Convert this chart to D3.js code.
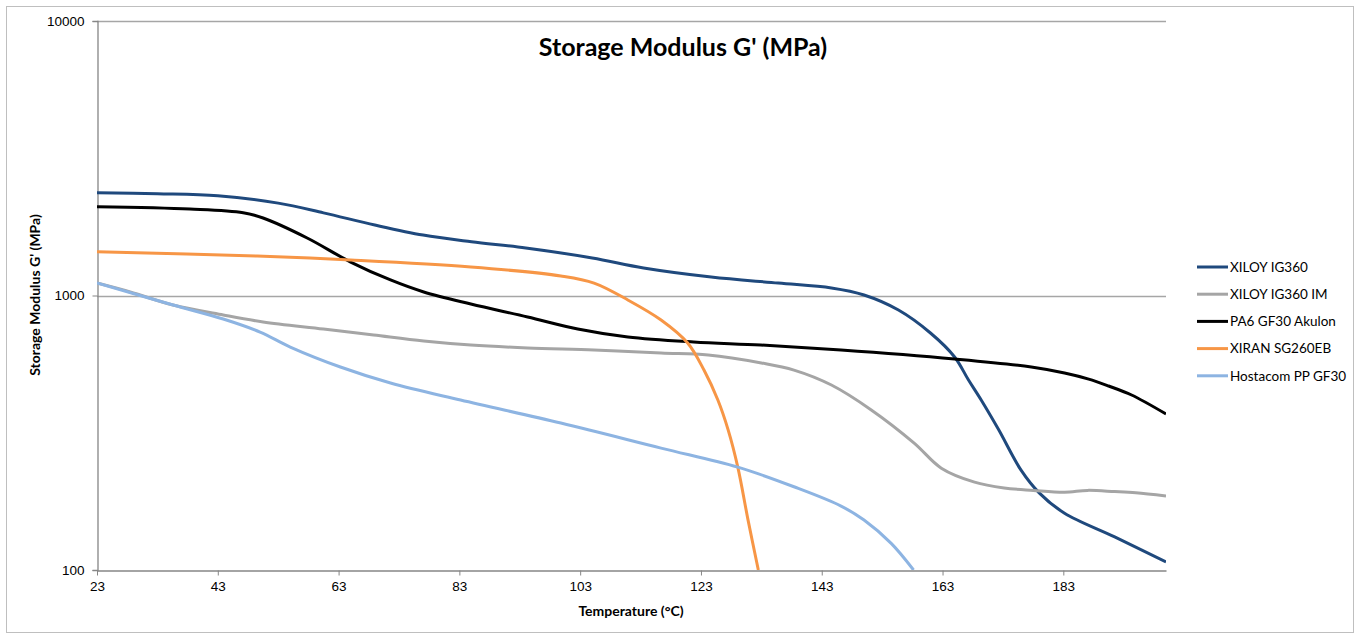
<!DOCTYPE html>
<html>
<head>
<meta charset="utf-8">
<script src="https://cdn.jsdelivr.net/npm/d3@7"></script>
<style>
  body { margin: 0; background: #fff; }
  svg { display: block; font-family: Lato, "Open Sans", sans-serif; }
</style>
</head>
<body>
<svg id="chart"></svg>
<script>
// values (temperature in °C, modulus in MPa)
const xiloyT = [23, 33, 43, 53, 60.5, 69, 77, 85, 94, 105, 113.5, 124.7, 135.8, 144.6, 150, 155.7, 161, 165, 167.3, 169.4, 172.3, 176, 179, 183.2, 191.5, 200];
const xiloyV = [2370, 2350, 2310, 2170, 2000, 1806, 1660, 1570, 1490, 1370, 1260, 1168, 1110, 1065, 1004, 885, 730, 597, 492, 416, 324, 231, 191, 161, 132, 107];

const xiloyImT = [23, 28.5, 35.6, 43.9, 50.5, 60.5, 68.8, 77.1, 84.9, 94.3, 105.3, 116.4, 124.2, 133, 138.4, 144.6, 151.2, 158.3, 162.8, 168.3, 173.2, 178, 183.2, 187, 191.5, 195, 200];
const xiloyImV = [1110, 1030, 923, 849, 801, 755, 718, 683, 660, 644, 633, 617, 607, 568, 535, 472, 383, 290, 235, 209, 199, 195, 192, 195, 193, 191, 186];

const pa6T = [23, 38.4, 47.2, 50.5, 57.8, 65, 71.6, 77.1, 84.9, 94.3, 102.6, 110.9, 121.8, 132.9, 146.2, 165, 177.7, 183.2, 187.2, 190.5, 194.3, 200];
const pa6V = [2106, 2066, 2003, 1916, 1620, 1324, 1139, 1030, 931, 835, 755, 706, 677, 660, 633, 587, 549, 522, 496, 468, 434, 370];

const xiranT = [23, 49.5, 65, 84.9, 99.8, 105.3, 110.9, 116.4, 120.8, 123.5, 125.8, 127.5, 129.1, 130.8, 132.5];
const xiranV = [1444, 1393, 1347, 1270, 1178, 1110, 963, 814, 671, 535, 416, 324, 237, 152, 100];

const hostaT = [23, 35.6, 43.9, 50, 55, 63.3, 71.6, 83.2, 99.8, 116.4, 129.1, 138.4, 146.2, 150, 154.5, 158.2];
const hostaV = [1110, 923, 821, 736, 649, 549, 480, 416, 343, 278, 237, 201, 171, 152, 125, 100];

const seriesNames = ["XILOY IG360", "XILOY IG360 IM", "PA6 GF30 Akulon", "XIRAN SG260EB", "Hostacom PP GF30"];
const seriesColors = ["#1f497d", "#a5a5a5", "#000000", "#f79646", "#8db4e2"];
const xTicks = [23, 43, 63, 83, 103, 123, 143, 163, 183];
const yTicks = [100, 1000, 10000];

const width = 1362, height = 635;
const margin_left = 97, margin_top = 21, plot_right = 1166, plot_bottom = 570;

const svg = d3.select("#chart").attr("width", width).attr("height", height);

// outer frame
svg.append("rect")
    .attr("x", 6.5).attr("y", 6.5)
    .attr("width", 1347).attr("height", 626)
    .attr("fill", "#fff")
    .attr("stroke", "#bfbfbf");

const xScale = d3.scaleLinear().domain([23, 200]).range([margin_left, plot_right]);
const yScale = d3.scaleLog().domain([100, 10000]).range([plot_bottom, margin_top]);

// gridlines
svg.append("g")
    .selectAll("line")
    .data(yTicks.slice(1))
    .enter()
    .append("line")
        .attr("x1", margin_left).attr("x2", plot_right)
        .attr("y1", d => Math.round(yScale(d)) + 0.5)
        .attr("y2", d => Math.round(yScale(d)) + 0.5)
        .attr("stroke", "#a6a6a6")
        .attr("stroke-width", 1.3);

// y axis
const yAxis = svg.append("g")
    .attr("transform", "translate(" + (margin_left + 0.5) + ",0)")
    .call(d3.axisLeft(yScale).tickValues(yTicks).tickFormat(d3.format("d")).tickSize(5).tickPadding(8));
yAxis.select(".domain").attr("stroke", "#868686").attr("stroke-width", 1.3);
yAxis.selectAll(".tick line").attr("stroke", "#868686");
yAxis.selectAll("text").style("font-size", "13.5px").attr("fill", "#000");

// x axis
const xAxis = svg.append("g")
    .attr("transform", "translate(0," + (plot_bottom + 0.5) + ")")
    .call(d3.axisBottom(xScale).tickValues(xTicks).tickSize(5).tickSizeOuter(0).tickPadding(6));
xAxis.select(".domain").attr("stroke", "#868686").attr("stroke-width", 1.3);
xAxis.selectAll(".tick line").attr("stroke", "#868686");
xAxis.selectAll("text").style("font-size", "13.5px").attr("fill", "#000");

// curves
const allSeries = [
    xiloyT.map((t, i) => [t, xiloyV[i]]),
    xiloyImT.map((t, i) => [t, xiloyImV[i]]),
    pa6T.map((t, i) => [t, pa6V[i]]),
    xiranT.map((t, i) => [t, xiranV[i]]),
    hostaT.map((t, i) => [t, hostaV[i]])
];

svg.append("clipPath").attr("id", "plotClip")
    .append("rect")
    .attr("x", margin_left).attr("y", margin_top)
    .attr("width", plot_right - margin_left).attr("height", plot_bottom - margin_top);

const line = d3.line()
    .x(d => xScale(d[0]))
    .y(d => yScale(d[1]))
    .curve(d3.curveCatmullRom.alpha(0.5));

svg.append("g")
    .attr("clip-path", "url(#plotClip)")
    .selectAll("path")
    .data(allSeries)
    .enter()
    .append("path")
        .attr("d", d => line(d))
        .attr("fill", "none")
        .attr("stroke", (d, i) => seriesColors[i])
        .attr("stroke-width", 3)
        .attr("stroke-linejoin", "round");

// titles
svg.append("text")
    .attr("x", 683).attr("y", 56)
    .attr("text-anchor", "middle")
    .style("font-size", "25px").style("font-weight", "bold")
    .text("Storage Modulus G' (MPa)");

svg.append("text")
    .attr("x", 631).attr("y", 616)
    .attr("text-anchor", "middle")
    .style("font-size", "14px").style("font-weight", "bold")
    .text("Temperature (°C)");

svg.append("text")
    .attr("transform", "translate(40,295) rotate(-90)")
    .attr("text-anchor", "middle")
    .style("font-size", "14px").style("font-weight", "bold")
    .text("Storage Modulus G'  (MPa)");

// legend
const legend = svg.append("g");
const rows = legend.selectAll("g")
    .data(seriesNames)
    .enter()
    .append("g")
        .attr("transform", (d, i) => "translate(1197," + (267 + i * 27.2) + ")");
rows.append("line")
    .attr("x1", 0).attr("x2", 31)
    .attr("stroke", (d, i) => seriesColors[i])
    .attr("stroke-width", 3);
rows.append("text")
    .attr("x", 33).attr("dy", "0.35em")
    .style("font-size", "13.5px")
    .text(d => d);
</script>
</body>
</html>
